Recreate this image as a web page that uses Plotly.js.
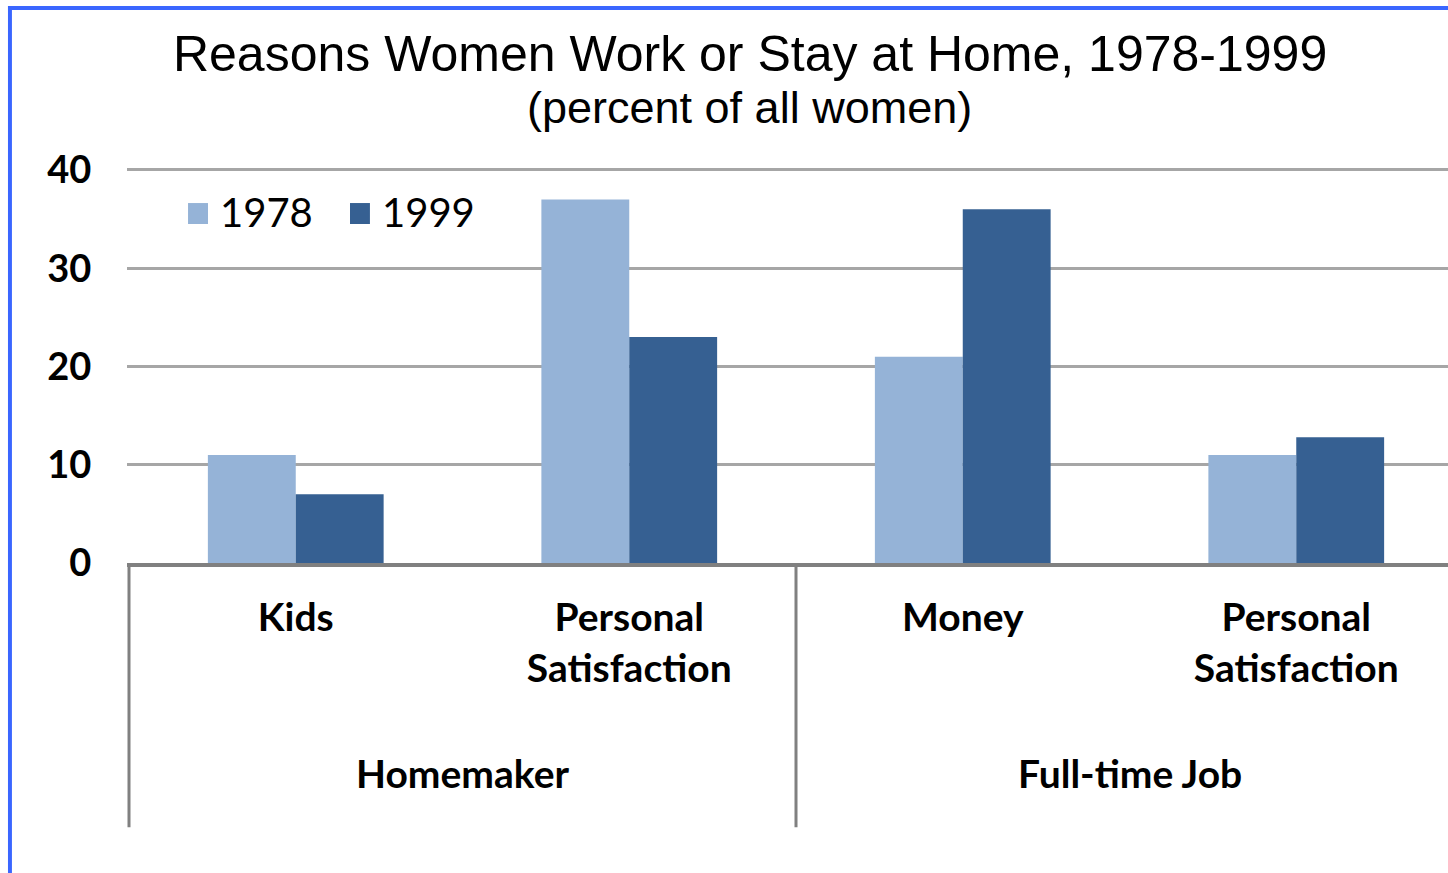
<!DOCTYPE html>
<html><head><meta charset="utf-8">
<script src="https://cdn.plot.ly/plotly-3.0.1.min.js"></script>
<style>html,body{margin:0;padding:0;background:#fff;overflow:hidden;} #chart{width:1448px;height:873px;}</style>
</head><body><div id="chart"></div>
<script>
// ---- data ----
const groups = ['Homemaker', 'Homemaker', 'Full-time Job', 'Full-time Job'];
const reasons = ['Kids', 'Personal Satisfaction', 'Money', 'Personal Satisfaction'];
const seriesNames = ['1978', '1999'];
const values1978 = [11, 37, 21, 11];
const values1999 = [7, 23, 36, 12.8];
const yTickVals = [0, 10, 20, 30, 40];
const groupNames = ['Homemaker', 'Full-time Job'];
const titleText = 'Reasons Women Work or Stay at Home, 1978-1999';
const subtitleText = '(percent of all women)';

// ---- derived ----
const keys = groups.map((g, i) => g + ' | ' + reasons[i]);
const tickLabels = reasons.map(r => r.replace(' ', '<br>'));
const colors = ['#95B3D7', '#366092'];
const labelFont = {family: 'Lato, sans-serif', size: 39, color: '#000', weight: 'bold'};

const traces = [values1978, values1999].map((vals, i) => ({
  type: 'bar', name: seriesNames[i], x: keys, y: vals,
  marker: {color: colors[i]}, hoverinfo: 'x+y+name', showlegend: false
}));

const shapes = [];
const annotations = [];

// group boundaries & centers from the groups array
const boundaries = [-0.5];
groupNames.forEach(gn => {
  const idx = groups.map((g, i) => g === gn ? i : -1).filter(i => i >= 0);
  const c = idx.reduce((a, b) => a + b, 0) / idx.length;
  boundaries.push(Math.max(...idx) + 0.5);
  annotations.push({xref: 'x', yref: 'paper', x: c, y: -0.530, text: gn, showarrow: false,
    xanchor: 'center', yanchor: 'middle', font: labelFont});
});
boundaries.forEach(b => shapes.push({type: 'line', xref: 'x', yref: 'paper', x0: b, x1: b,
  y0: 0, y1: -0.667, line: {color: '#808080', width: 3}, layer: 'above'}));

// legend (square swatch + label per series)
const legendSwatchX = [0.0462, 0.1688];
seriesNames.forEach((n, i) => {
  shapes.push({type: 'rect', xref: 'paper', yref: 'paper', x0: legendSwatchX[i], x1: legendSwatchX[i] + 0.0151,
    y0: 0.856, y1: 0.909, fillcolor: colors[i], line: {width: 0}});
  annotations.push({xref: 'paper', yref: 'paper', x: legendSwatchX[i] + 0.0227, y: 0.886, text: n,
    showarrow: false, xanchor: 'left', yanchor: 'middle',
    font: {family: 'Lato, sans-serif', size: 40, color: '#000'}});
});

// subtitle
annotations.push({xref: 'paper', yref: 'paper', x: 0.4716, y: 1.149, text: subtitleText,
  showarrow: false, xanchor: 'center', yanchor: 'middle',
  font: {family: 'Liberation Sans, Arial, sans-serif', size: 45, color: '#000'}});

// blue frame (left and top edges)
shapes.push({type: 'rect', xref: 'paper', yref: 'paper', x0: -0.0901, x1: -0.0871, y0: -0.8, y1: 1.4066,
  fillcolor: '#3A66FF', line: {width: 0}});
shapes.push({type: 'rect', xref: 'paper', yref: 'paper', x0: -0.0901, x1: 1.01, y0: 1.3965, y1: 1.4066,
  fillcolor: '#3A66FF', line: {width: 0}});

const layout = {
  width: 1448, height: 873,
  margin: {l: 127, r: 0, t: 167, b: 310, pad: 0, autoexpand: false},
  paper_bgcolor: '#fff', plot_bgcolor: '#fff',
  title: {
    text: titleText,
    font: {family: 'Liberation Sans, Arial, sans-serif', size: 50, color: '#000'},
    xref: 'container', x: 0.518, xanchor: 'center',
    yref: 'container', y: 0.939, yanchor: 'middle'
  },
  barmode: 'group', bargap: 0.473, bargroupgap: 0,
  showlegend: false,
  xaxis: {
    type: 'category', range: [-0.506, 3.455], tickvals: keys, ticktext: tickLabels,
    tickfont: labelFont, showgrid: false, zeroline: false,
    showline: true, linecolor: '#808080', linewidth: 4,
    ticks: '', ticklabelstandoff: 17, fixedrange: true
  },
  yaxis: {
    range: [0, 40.3], tickvals: yTickVals, showgrid: true, gridcolor: '#A6A6A6', gridwidth: 3,
    zeroline: false, showline: false, ticks: 'outside', ticklen: 27, tickcolor: 'rgba(0,0,0,0)',
    tickfont: {family: 'Lato, sans-serif', size: 38, color: '#000', weight: 'bold'}, fixedrange: true
  },
  shapes: shapes,
  annotations: annotations
};

Plotly.newPlot('chart', traces, layout, {displayModeBar: false, staticPlot: true});
</script>
</body></html>
